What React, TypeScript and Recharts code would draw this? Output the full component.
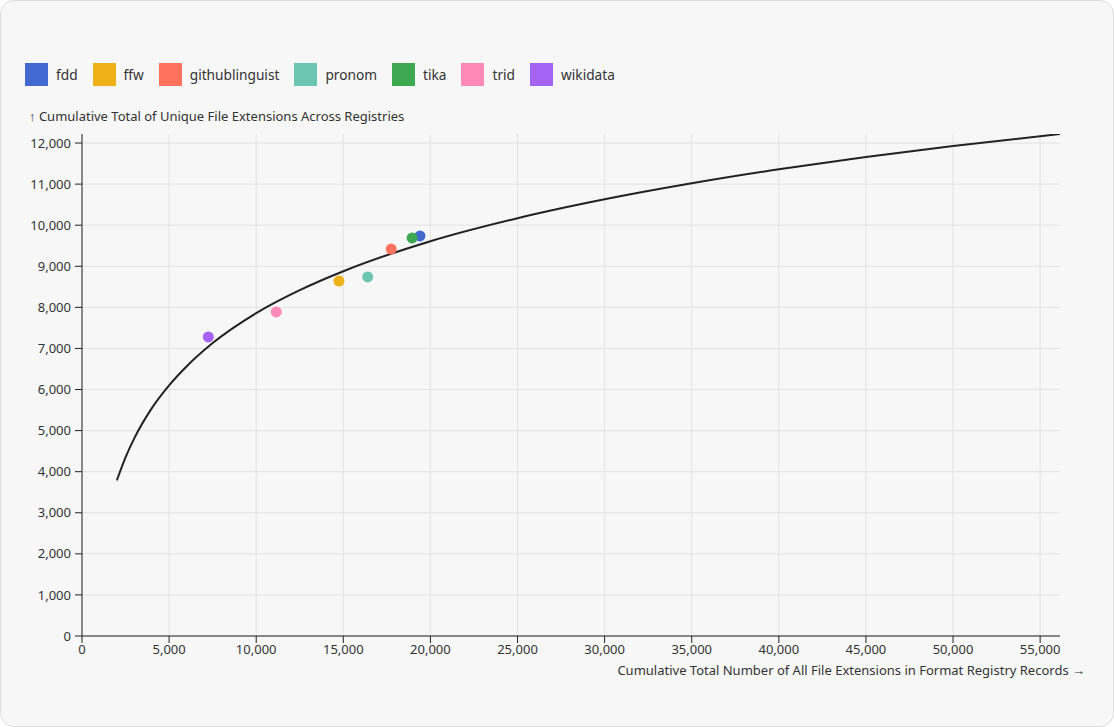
import {
  ComposedChart,
  Line,
  Scatter,
  XAxis,
  YAxis,
  CartesianGrid
} from 'recharts';

// Registry points (x: total extensions in records, y: unique extensions)
const registries = ['fdd', 'ffw', 'githublinguist', 'pronom', 'tika', 'trid', 'wikidata'];
const registryColors = ['#4269d0', '#efb118', '#ff725c', '#6cc5b0', '#3ca951', '#ff8ab7', '#a463f2'];
const registryX = [19400, 14750, 17750, 16400, 18950, 11150, 7250];
const registryY = [9740, 8640, 9420, 8740, 9690, 7890, 7280];

// Fitted curve
const curveX = [2000, 2500, 3000, 4000, 5000, 6000, 7500, 10000, 12500, 15000, 20000, 25000, 30000, 35000, 40000, 45000, 50000, 56140];
const curveY = [3790, 4350, 4810, 5540, 6100, 6560, 7130, 7860, 8420, 8880, 9610, 10170, 10630, 11020, 11360, 11660, 11930, 12220];

const xTicks = [0, 5000, 10000, 15000, 20000, 25000, 30000, 35000, 40000, 45000, 50000, 55000];
const yTicks = [0, 1000, 2000, 3000, 4000, 5000, 6000, 7000, 8000, 9000, 10000, 11000, 12000];

const X_MAX = 56140;
const Y_MAX = 12220;

const curve = curveX.map((x, i) => ({ x, y: curveY[i] }));

const FONT = '"Noto Sans", "Open Sans", sans-serif';
const fmt = (v: number) => v.toLocaleString('en-US');

// grid lines only at the tick values (no lines on the plot's far edges)
const vGrid = ({ offset }: any) => xTicks.map(t => offset.left + (t / X_MAX) * offset.width);
const hGrid = ({ offset }: any) => yTicks.map(t => offset.top + offset.height - (t / Y_MAX) * offset.height);

const App = () => {
  return (
    <div
      style={{
        position: 'relative',
        width: 1114,
        height: 727,
        boxSizing: 'border-box',
        border: '1px solid #dedede',
        borderRadius: 14,
        background: '#f7f7f7',
        fontFamily: FONT,
        color: '#333',
        overflow: 'hidden'
      }}
    >
      <style>{`body { margin: 0; background: #fff; }`}</style>

      {/* legend */}
      <div style={{ position: 'absolute', left: 24, top: 62, display: 'flex', alignItems: 'center', fontSize: 13.7 }}>
        {registries.map((name, i) => (
          <div key={name} style={{ display: 'flex', alignItems: 'center', marginRight: 15 }}>
            <span style={{ width: 23, height: 23, background: registryColors[i], display: 'inline-block', marginRight: 8 }} />
            <span>{name}</span>
          </div>
        ))}
      </div>

      <div style={{ position: 'absolute', left: 28, top: 106, fontSize: 13 }}>
        ↑ Cumulative Total of Unique File Extensions Across Registries
      </div>

      <div style={{ position: 'absolute', right: 28, top: 660, fontSize: 13 }}>
        Cumulative Total Number of All File Extensions in Format Registry Records →
      </div>

      <div style={{ position: 'absolute', left: -1, top: -1 }}>
        <ComposedChart
          width={1114}
          height={727}
          margin={{ top: 134, right: 54, left: 22, bottom: 61 }}
        >
          <CartesianGrid
            stroke="#e2e2e2"
            verticalCoordinatesGenerator={vGrid}
            horizontalCoordinatesGenerator={hGrid}
          />
          <XAxis
            type="number"
            dataKey="x"
            domain={[0, X_MAX]}
            ticks={xTicks}
            tickFormatter={fmt}
            allowDataOverflow
            height={30}
            tick={{ fill: '#333', fontSize: 13, fontFamily: FONT }}
            axisLine={{ stroke: '#222' }}
            tickLine={{ stroke: '#222' }}
            tickSize={7}
            tickMargin={2}
          />
          <YAxis
            type="number"
            dataKey="y"
            domain={[0, Y_MAX]}
            ticks={yTicks}
            tickFormatter={fmt}
            allowDataOverflow
            width={60}
            tick={{ fill: '#333', fontSize: 13, fontFamily: FONT }}
            axisLine={{ stroke: '#222' }}
            tickLine={{ stroke: '#222' }}
            tickSize={7}
            tickMargin={4}
          />
          <Line
            data={curve}
            dataKey="y"
            type="monotone"
            stroke="#222"
            strokeWidth={2}
            dot={false}
            activeDot={false}
            isAnimationActive={false}
          />
          {registries.map((name, i) => (
            <Scatter
              key={name}
              name={name}
              data={[{ x: registryX[i], y: registryY[i] }]}
              fill={registryColors[i]}
              shape={(p: any) => <circle cx={p.cx} cy={p.cy} r={5.5} fill={registryColors[i]} />}
              isAnimationActive={false}
            />
          ))}
        </ComposedChart>
      </div>
    </div>
  );
};

export default App;
